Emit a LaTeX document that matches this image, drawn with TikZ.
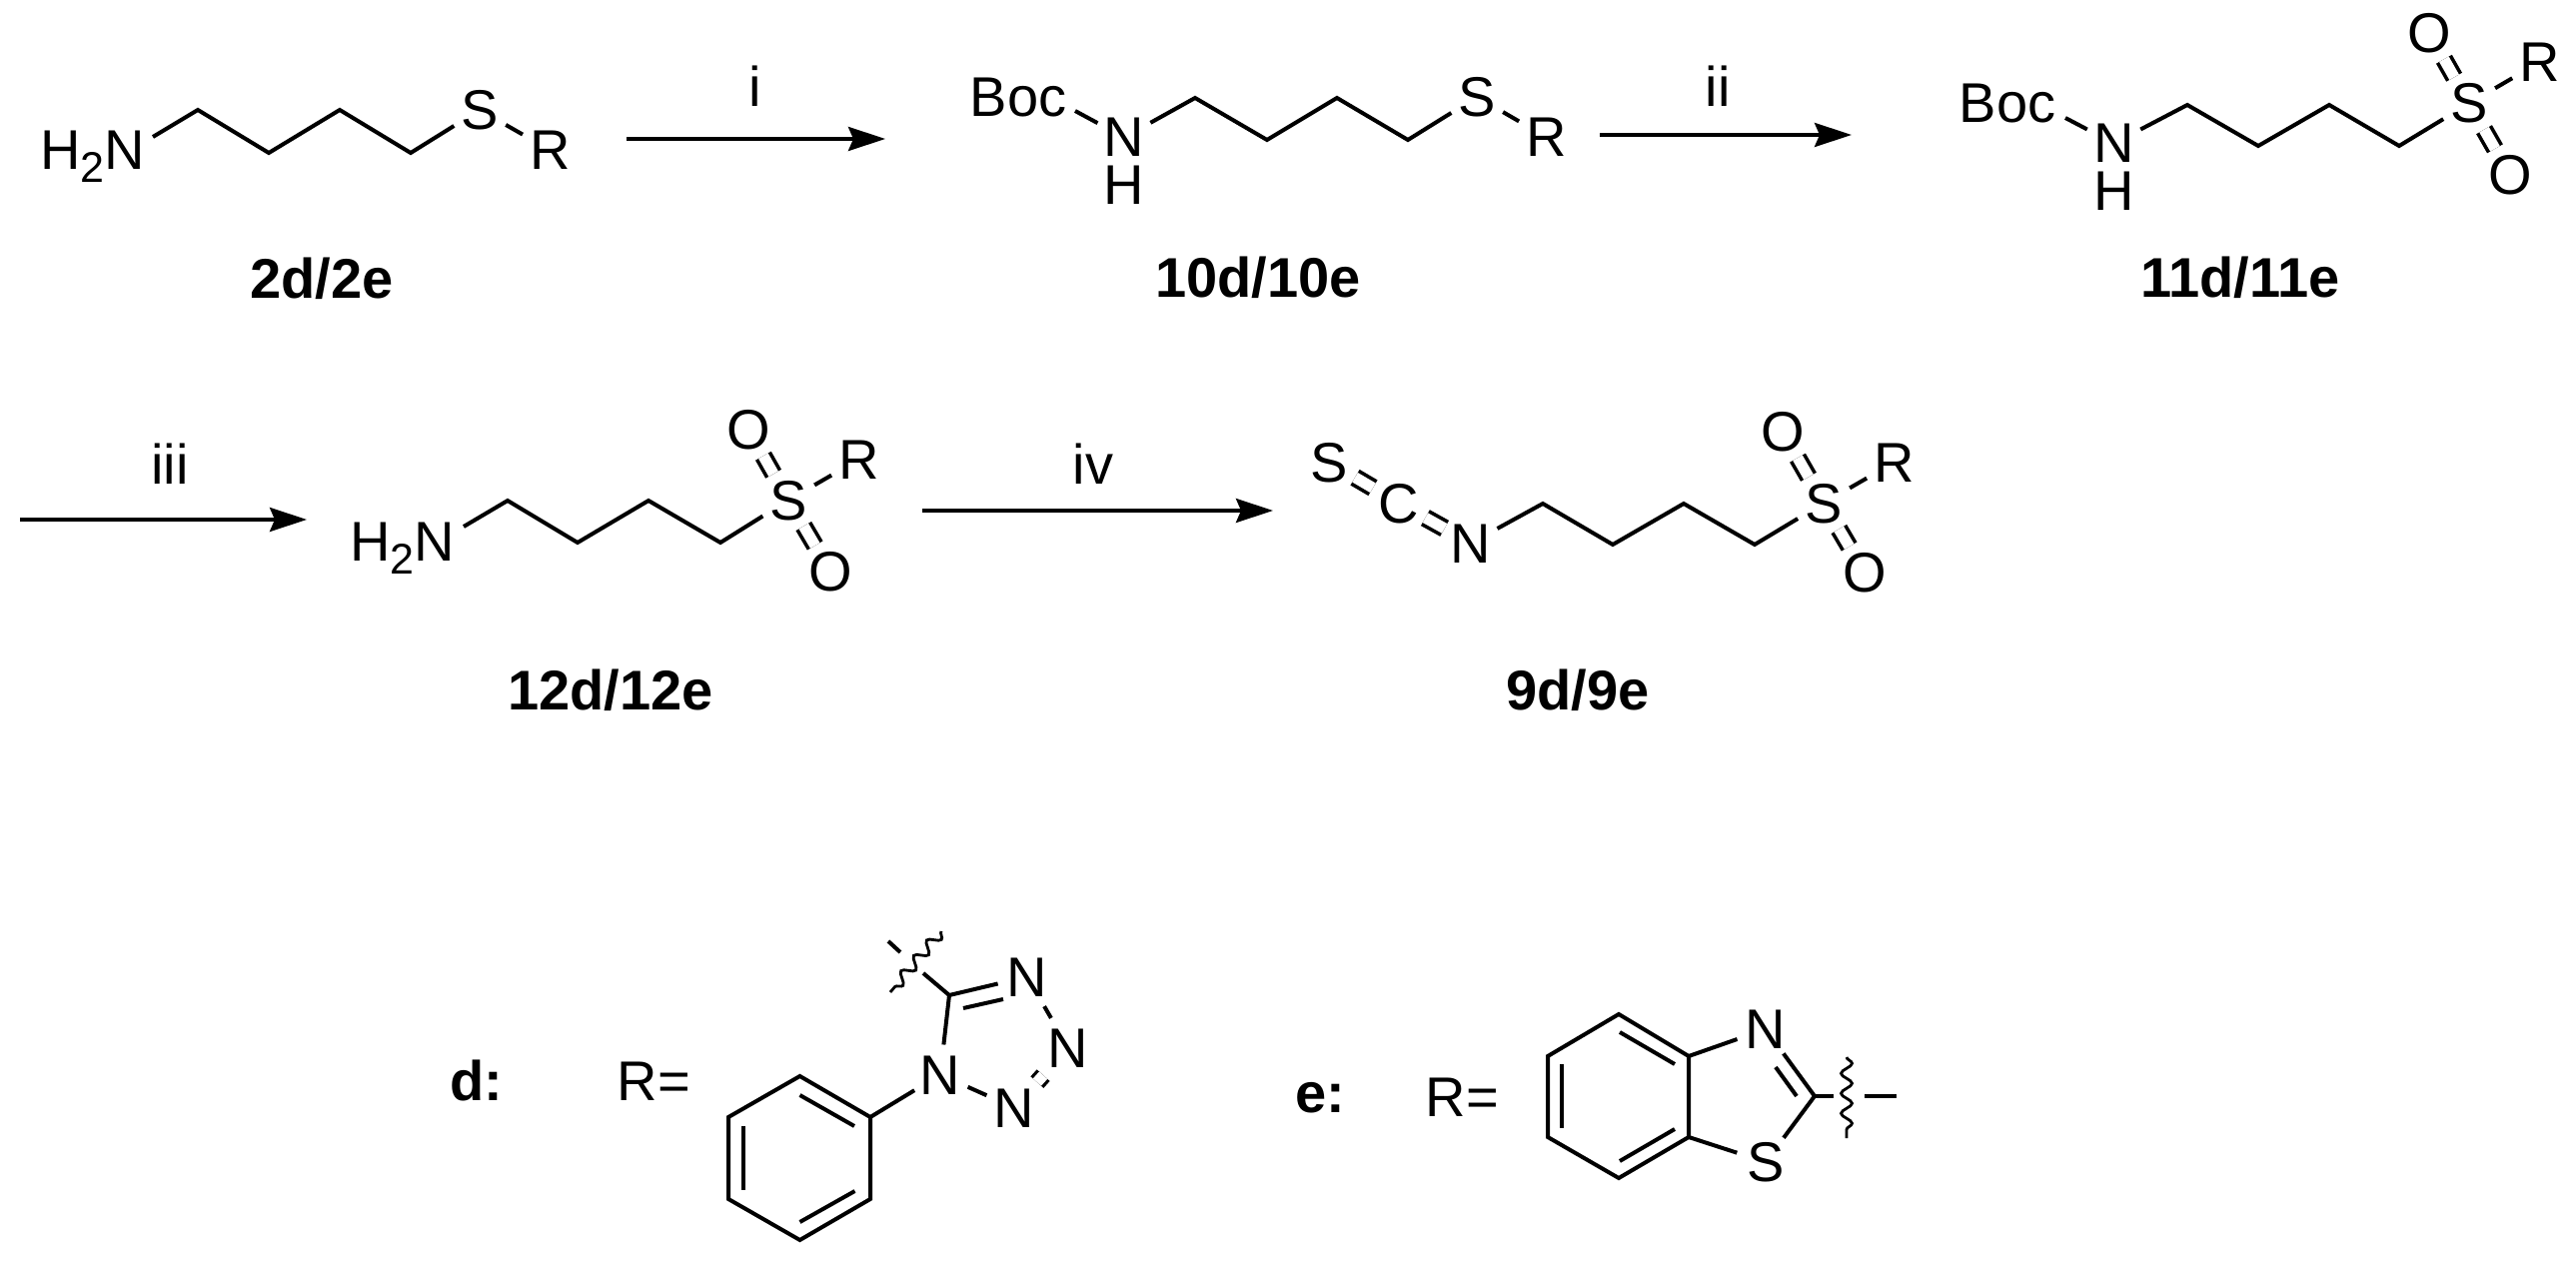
\documentclass[tikz,border=0pt]{standalone}
\usepackage{fontspec}
\setmainfont{Liberation Sans}
\usetikzlibrary{arrows.meta,decorations.pathmorphing}
\newcommand{\chemfont}{\fontsize{56}{60}\selectfont}
\newcommand{\amine}{H\raisebox{-13pt}{\fontsize{43}{43}\selectfont 2}N}
\tikzset{
  atom/.style={circle,inner sep=0pt,minimum size=60pt,text height=39pt,text depth=0pt,font=\chemfont},
  rgroup/.style={atom,minimum size=64pt},
  hatom/.style={atom,minimum size=0pt},
  txt/.style={inner sep=0pt,anchor=base,font=\chemfont},
  cmpd/.style={inner sep=0pt,anchor=base,font=\chemfont\bfseries},
  bond/.style={line width=4pt,black},
  dbl/.style={line width=3.6pt,double,double distance=11pt,black},
  rxn/.style={line width=3.6pt,-{Stealth[length=37pt,width=24pt,inset=5pt]}},
  wave/.style={line width=2.8pt,decorate,decoration={snake,amplitude=5.5pt,segment length=20pt}},
}
\begin{document}
\begin{tikzpicture}[x=1pt,y=-1pt]
\useasboundingbox[fill=white] (0,0) rectangle (2578,1265);

% ---------- compound 2
\node[txt,anchor=base west] (a0) at (40,170) {\amine};
\coordinate (a1) at (153,137);
\coordinate (a2) at (198,110);
\coordinate (a3) at (269,153);
\coordinate (a4) at (340,110);
\coordinate (a5) at (411,153);
\node[atom] (aS) at (480,110) {S};
\node[rgroup] (aR) at (551,150.5) {R};
\draw[bond] (a1) -- (a2) -- (a3) -- (a4) -- (a5) -- (aS);
\draw[bond] (aS) -- (aR);
\node[cmpd] (la) at (322,299) {2d/2e};

% arrow i
\coordinate (r1a) at (627,139);
\coordinate (r1b) at (886,139);
\draw[rxn] (r1a) -- (r1b);
\node[txt] (ti) at (756,107) {i};

% ---------- compound 10
\node[txt] (bB) at (1019,117) {Boc};
\coordinate (bb) at (1076,111);
\node[atom] (bN) at (1125,137.5) {N};
\node[hatom] (bH) at (1125,185.5) {H};
\coordinate (b2) at (1196,98);
\coordinate (b3) at (1268,140);
\coordinate (b4) at (1338,98);
\coordinate (b5) at (1409,140);
\node[atom] (bS) at (1478,97) {S};
\node[rgroup] (bR) at (1548,137.5) {R};
\draw[bond] (bb) -- (bN);
\draw[bond] (bN) -- (b2) -- (b3) -- (b4) -- (b5) -- (bS);
\draw[bond] (bS) -- (bR);
\node[cmpd] (lb) at (1259,298) {10d/10e};

% arrow ii
\coordinate (r2a) at (1601,135);
\coordinate (r2b) at (1853,135);
\draw[rxn] (r2a) -- (r2b);
\node[txt] (tii) at (1719,107) {ii};

% ---------- compound 11
\node[txt] (cB) at (2009,123) {Boc};
\coordinate (cb) at (2067,118);
\node[atom] (cN) at (2115.5,143.5) {N};
\node[hatom] (cH) at (2115.5,191.5) {H};
\coordinate (c2) at (2189,105);
\coordinate (c3) at (2260,146);
\coordinate (c4) at (2331,105);
\coordinate (c5) at (2401,146);
\node[atom] (cS) at (2471,103.5) {S};
\node[atom] (cO) at (2431,33) {O};
\node[atom] (cP) at (2512,175) {O};
\node[rgroup] (cR) at (2542,62) {R};
\draw[bond] (cb) -- (cN);
\draw[bond] (cN) -- (c2) -- (c3) -- (c4) -- (c5) -- (cS);
\draw[bond] (cS) -- (cR);
\draw[dbl] (cS) -- (cO);
\draw[dbl] (cS) -- (cP);
\node[cmpd] (lc) at (2242,298) {11d/11e};

% arrow iii
\coordinate (r3a) at (20,520);
\coordinate (r3b) at (307,520);
\draw[rxn] (r3a) -- (r3b);
\node[txt] (tiii) at (170,484) {iii};

% ---------- compound 12
\node[txt,anchor=base west] (d0) at (350,561) {\amine};
\coordinate (d1) at (464,527);
\coordinate (d2) at (508,501);
\coordinate (d3) at (578,543);
\coordinate (d4) at (649,501);
\coordinate (d5) at (721,543);
\node[atom] (dS) at (789,500.5) {S};
\node[atom] (dO) at (749,430) {O};
\node[atom] (dP) at (831,572) {O};
\node[rgroup] (dR) at (860,459.5) {R};
\draw[bond] (d1) -- (d2) -- (d3) -- (d4) -- (d5) -- (dS);
\draw[bond] (dS) -- (dR);
\draw[dbl] (dS) -- (dO);
\draw[dbl] (dS) -- (dP);
\node[cmpd] (ld) at (611,710) {12d/12e};

% arrow iv
\coordinate (r4a) at (923,511);
\coordinate (r4b) at (1274,511);
\draw[rxn] (r4a) -- (r4b);
\node[txt] (tiv) at (1094,484) {iv};

% ---------- compound 9
\node[atom] (eS) at (1330,462.5) {S};
\node[atom] (eC) at (1400,503.5) {C};
\node[atom] (eN) at (1472,543.5) {N};
\coordinate (e2) at (1544,504);
\coordinate (e3) at (1614,545);
\coordinate (e4) at (1685,504);
\coordinate (e5) at (1756,545);
\node[atom] (fS) at (1825,503.5) {S};
\node[atom] (fO) at (1784,432) {O};
\node[atom] (fP) at (1866,573) {O};
\node[rgroup] (fR) at (1896,462.5) {R};
\draw[dbl] (eS) -- (eC);
\draw[dbl] (eC) -- (eN);
\draw[bond] (eN) -- (e2) -- (e3) -- (e4) -- (e5) -- (fS);
\draw[bond] (fS) -- (fR);
\draw[dbl] (fS) -- (fO);
\draw[dbl] (fS) -- (fP);
\node[cmpd] (le) at (1579,710) {9d/9e};

% ---------- d: R = 1-phenyltetrazol-5-yl
\node[cmpd] (gl) at (476.5,1101) {d:};
\node[txt] (gr) at (654.5,1101) {R=};
\coordinate (g1) at (871,1118);
\coordinate (g2) at (800.5,1077);
\coordinate (g3) at (729,1118);
\coordinate (g4) at (729,1200);
\coordinate (g5) at (800.5,1241);
\coordinate (g6) at (871,1200);
\draw[bond] (g1) -- (g2) -- (g3) -- (g4) -- (g5) -- (g6) -- cycle;
\coordinate (g2a) at (800.5,1096);
\coordinate (g2b) at (855,1127);
\coordinate (g3a) at (743.5,1127);
\coordinate (g3b) at (743.5,1191);
\coordinate (g5a) at (800.5,1223);
\coordinate (g5b) at (855.5,1192);
\draw[bond] (g2a) -- (g2b);
\draw[bond] (g3a) -- (g3b);
\draw[bond] (g5a) -- (g5b);
\node[atom] (gN1) at (941,1075.5) {N};
\node[atom] (gN2) at (1015,1108.5) {N};
\node[atom] (gN3) at (1069,1048.5) {N};
\node[atom] (gN4) at (1028,977.5) {N};
\coordinate (gC) at (950,996);
\coordinate (gCi) at (964,1009);
\coordinate (gCj) at (1004,1000);
\coordinate (gs) at (924,974);
\coordinate (gt) at (901,953);
\coordinate (gu) at (889,942);
\coordinate (gwa) at (942,932);
\coordinate (gwb) at (891,993);
\draw[bond] (g1) -- (gN1);
\draw[bond] (gN1) -- (gN2);
\draw[dbl,line width=3.2pt,shorten <=4pt,shorten >=7pt] (gN2) -- (gN3);
\draw[bond,shorten <=4pt,shorten >=4pt] (gN3) -- (gN4);
\draw[bond] (gN4) -- (gC) -- (gN1);
\draw[bond] (gCi) -- (gCj);
\draw[bond] (gC) -- (gs);
\draw[bond] (gt) -- (gu);
\draw[wave] (gwa) -- (gwb);

% ---------- e: R = benzothiazol-2-yl
\node[cmpd] (hl) at (1321.5,1113) {e:};
\node[txt] (hr) at (1463.5,1117) {R=};
\coordinate (h1) at (1690,1057);
\coordinate (h2) at (1620,1015);
\coordinate (h3) at (1549,1057);
\coordinate (h4) at (1549,1138);
\coordinate (h5) at (1620,1179);
\coordinate (h6) at (1690,1138);
\draw[bond] (h1) -- (h2) -- (h3) -- (h4) -- (h5) -- (h6) -- cycle;
\coordinate (h2a) at (1621,1033);
\coordinate (h2b) at (1676,1065);
\coordinate (h3a) at (1563,1065);
\coordinate (h3b) at (1563,1129);
\coordinate (h5a) at (1621,1162);
\coordinate (h5b) at (1676,1130);
\draw[bond] (h2a) -- (h2b);
\draw[bond] (h3a) -- (h3b);
\draw[bond] (h5a) -- (h5b);
\node[atom] (hN) at (1767,1030) {N};
\node[atom] (hS) at (1767,1163) {S};
\coordinate (hC) at (1816,1097);
\coordinate (hCi) at (1798,1097);
\coordinate (hCj) at (1777,1068);
\coordinate (hs) at (1835,1097);
\coordinate (ht) at (1866,1097);
\coordinate (hu) at (1898,1097);
\coordinate (hwa) at (1848,1058);
\coordinate (hwb) at (1848,1139);
\draw[bond] (h1) -- (hN);
\draw[bond] (h6) -- (hS);
\draw[bond] (hN) -- (hC) -- (hS);
\draw[bond] (hCi) -- (hCj);
\draw[bond] (hC) -- (hs);
\draw[bond] (ht) -- (hu);
\draw[wave] (hwa) -- (hwb);
\end{tikzpicture}
\end{document}
